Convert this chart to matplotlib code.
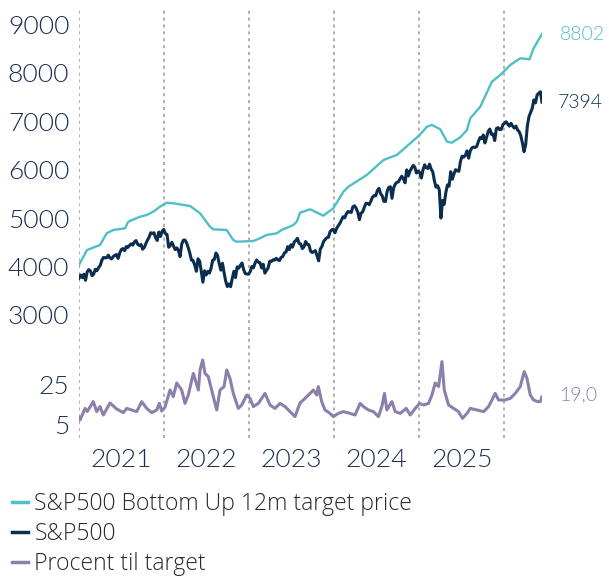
import matplotlib
matplotlib.use("Agg")
import matplotlib.pyplot as plt
import pandas as pd

# ---------------- data ----------------
sp_2021 = [3756, 3825, 3768, 3841, 3714,
           3887, 3934, 3907, 3811,
           3842, 3943, 3913, 3975,
           4020, 4129, 4185, 4180, 4181,
           4233, 4174, 4156, 4204,
           4230, 4247, 4166, 4281,
           4352, 4370, 4327, 4412, 4395,
           4437, 4468, 4442, 4509,
           4535, 4459, 4433, 4455,
           4357, 4391, 4471, 4545, 4605,
           4697, 4683, 4698, 4595,
           4538, 4712, 4621, 4726, 4766]
sp_2022 = [4677, 4663, 4398, 4432,
           4500, 4419, 4349, 4385,
           4329, 4204, 4463, 4543,
           4546, 4488, 4392, 4272, 4132,
           4123, 4024, 3901, 4158,
           4109, 3901, 3675, 3912,
           3825, 3899, 3863, 3962, 4130,
           4145, 4280, 4228, 4058,
           3924, 4067, 3873, 3693, 3586,
           3640, 3583, 3753, 3901,
           3771, 3993, 3965, 4026,
           4072, 3934, 3852, 3845, 3840]
sp_2023 = [3895, 3999, 3973, 4071,
           4136, 4090, 4079, 3970,
           4046, 3862, 3917, 3971, 4109,
           4105, 4138, 4133, 4169,
           4136, 4124, 4192, 4205,
           4282, 4299, 4410, 4348, 4450,
           4399, 4505, 4536, 4582,
           4478, 4464, 4370, 4406,
           4516, 4457, 4450, 4320, 4288,
           4308, 4327, 4224, 4117,
           4358, 4415, 4514, 4559,
           4595, 4604, 4719, 4755, 4770]
sp_2024 = [4697, 4784, 4840, 4891,
           4959, 5027, 5006, 5089,
           5137, 5124, 5117, 5234, 5254,
           5204, 5123, 4967, 5100,
           5128, 5223, 5303, 5305, 5278,
           5347, 5432, 5465, 5460,
           5567, 5615, 5505, 5459,
           5346, 5344, 5554, 5634, 5648,
           5408, 5626, 5703, 5738,
           5751, 5815, 5864, 5808,
           5729, 5996, 5870, 5969, 6032,
           6090, 6051, 5931, 5971]
sp_2025 = [5942, 5827, 5997, 6101, 6041,
           6026, 6115, 6013, 5955,
           5770, 5639, 5668, 5581,
           5000, 5363, 5283, 5525,
           5686, 5660, 5958, 5803, 5912,
           6000, 5977, 5967, 6173,
           6279, 6260, 6297, 6389,
           6238, 6389, 6450, 6467, 6460,
           6482, 6584, 6664, 6644,
           6716, 6553, 6664, 6792, 6840,
           6729, 6734, 6603, 6849,
           6870, 6827, 6834, 6930]
sp_2026 = [6958, 6990, 6940, 6900, 6958,
           6900, 6860, 6900, 6820,
           6785, 6700, 6550, 6372,
           6520, 6900, 7095, 7180,
           7268, 7440, 7380, 7543, 7580,
           7610, 7394]

# target price: (decimal year, value)
tgt_t = [2021.000, 2021.094, 2021.247, 2021.326, 2021.404, 2021.541, 2021.580,
         2021.718, 2021.796, 2021.874, 2021.953, 2022.031, 2022.109, 2022.306,
         2022.424, 2022.541, 2022.580, 2022.737, 2022.815, 2022.855, 2023.051,
         2023.129, 2023.208, 2023.326, 2023.384, 2023.522, 2023.561, 2023.600,
         2023.718, 2023.874, 2023.992, 2024.110, 2024.169, 2024.384, 2024.580,
         2024.737, 2024.894, 2025.004, 2025.090, 2025.149, 2025.247, 2025.326,
         2025.384, 2025.482, 2025.561, 2025.600, 2025.718, 2025.855, 2025.953,
         2026.071, 2026.188, 2026.298, 2026.345, 2026.443]
tgt_v = [4030, 4340, 4444, 4686, 4754, 4789, 4926,
         5029, 5064, 5132, 5236, 5318, 5306, 5250,
         5099, 4822, 4768, 4754, 4548, 4512, 4527,
         4583, 4651, 4686, 4754, 4857, 4926, 5110,
         5182, 5050, 5202, 5545, 5649, 5890, 6200,
         6304, 6545, 6717, 6888, 6924, 6835, 6579,
         6558, 6669, 6820, 7062, 7302, 7818, 7957,
         8163, 8302, 8281, 8508, 8802]

# percent to target: (decimal year, value)
pct_t = [2021.000, 2021.012, 2021.071, 2021.098, 2021.168, 2021.208, 2021.247,
         2021.286, 2021.365, 2021.443, 2021.522, 2021.561, 2021.620, 2021.679,
         2021.738, 2021.796, 2021.855, 2021.914, 2021.945, 2021.973, 2022.012,
         2022.071, 2022.109, 2022.149, 2022.208, 2022.247, 2022.286, 2022.345,
         2022.404, 2022.424, 2022.455, 2022.482, 2022.521, 2022.580, 2022.620,
         2022.659, 2022.706, 2022.738, 2022.776, 2022.815, 2022.874, 2022.914,
         2022.973, 2023.012, 2023.051, 2023.109, 2023.188, 2023.247, 2023.306,
         2023.365, 2023.424, 2023.482, 2023.541, 2023.600, 2023.659, 2023.718,
         2023.757, 2023.796, 2023.815, 2023.855, 2023.894, 2023.953, 2023.992,
         2024.051, 2024.110, 2024.188, 2024.247, 2024.306, 2024.345, 2024.404,
         2024.462, 2024.521, 2024.561, 2024.592, 2024.620, 2024.679, 2024.718,
         2024.776, 2024.847, 2024.894, 2024.953, 2025.004, 2025.051, 2025.109,
         2025.149, 2025.188, 2025.227, 2025.267, 2025.294, 2025.345, 2025.404,
         2025.462, 2025.509, 2025.561, 2025.600, 2025.679, 2025.757, 2025.815,
         2025.855, 2025.894, 2025.933, 2026.004, 2026.071, 2026.129, 2026.188,
         2026.235, 2026.267, 2026.306, 2026.345, 2026.392, 2026.424, 2026.443]
pct_v = [8.8, 7.5, 13.3, 11.8, 16.7, 11.7, 14.2,
         10.0, 16.0, 13.0, 11.2, 13.3, 12.5, 11.7,
         16.7, 13.3, 11.2, 12.5, 15.8, 12.0, 14.0,
         22.5, 19.2, 26.0, 22.5, 15.8, 20.0, 30.8,
         22.5, 32.5, 37.5, 30.8, 29.2, 19.2, 12.5,
         22.5, 24.2, 32.5, 28.3, 20.8, 13.3, 15.0,
         20.0, 18.3, 14.2, 15.8, 20.8, 15.0, 13.3,
         15.8, 14.2, 11.7, 9.2, 16.0, 18.3, 20.8,
         22.5, 20.0, 24.2, 16.7, 12.5, 10.8, 9.2,
         10.8, 11.7, 10.8, 10.0, 15.8, 14.2, 12.5,
         11.7, 9.2, 14.2, 20.8, 12.5, 16.7, 11.7,
         10.8, 13.3, 10.0, 13.3, 15.8, 15.0, 15.8,
         20.0, 26.0, 24.2, 36.7, 22.5, 15.0, 13.3,
         11.7, 8.3, 10.8, 13.3, 12.5, 11.7, 14.2,
         17.5, 20.8, 17.5, 17.5, 18.3, 20.8, 24.2,
         31.7, 28.3, 20.0, 17.5, 16.7, 16.7, 19.0]

years = [2021, 2022, 2023, 2024, 2025, 2026]
year_labels = ["2021", "2022", "2023", "2024", "2025"]
top_ticks = [3000, 4000, 5000, 6000, 7000, 8000, 9000]
bot_ticks = [5, 25]

labels = ["S&P500 Bottom Up 12m target price", "S&P500", "Procent til target"]
c_tgt = "#4fbfc6"
c_sp = "#0c2e4e"
c_pct = "#8b7fac"
c_tick = "#1a2d52"


def dec2dt(y):
    y0 = int(y)
    a = pd.Timestamp(y0, 1, 1)
    b = pd.Timestamp(y0 + 1, 1, 1)
    return a + (b - a) * (y - y0)


sp_vals = sp_2021 + sp_2022 + sp_2023 + sp_2024 + sp_2025 + sp_2026
sp_dates = pd.date_range("2021-01-01", periods=len(sp_vals), freq="W-FRI")
tgt_dates = [dec2dt(t) for t in tgt_t]
pct_dates = [dec2dt(t) for t in pct_t]

# ---------------- figure ----------------
W, H = 609, 578
fig = plt.figure(figsize=(W / 100, H / 100), dpi=100)
FONT = "Lato"
LFONT = "Open Sans"
WT = 300

def px_axes(x0, y0, x1, y1):
    return fig.add_axes([x0 / W, 1 - y1 / H, (x1 - x0) / W, (y1 - y0) / H])

ax = px_axes(79, 7, 542, 330)
ax2 = px_axes(79, 330, 542, 438)

xmin = pd.Timestamp("2021-01-01")
xmax = sp_dates[-1]

for a in (ax, ax2):
    a.set_xlim(xmin, xmax)
    for s in a.spines.values():
        s.set_visible(False)
    a.set_facecolor("none")
    for yr in years:
        a.axvline(pd.Timestamp(yr, 1, 1), color="#9a9a9a", lw=1.1,
                  linestyle=(0, (2, 2.5)), zorder=0)
    a.tick_params(axis="y", length=0, pad=7)
    a.tick_params(axis="x", length=0)

ax.set_ylim(2688, 9361)
ax2.set_ylim(-1.5, 52.5)

l_tgt, = ax.plot(tgt_dates, tgt_v, color=c_tgt, lw=1.7, zorder=3)
l_sp, = ax.plot(sp_dates, sp_vals, color=c_sp, lw=2.2, zorder=4)
l_pct, = ax2.plot(pct_dates, pct_v, color=c_pct, lw=2.2, zorder=3)

tick_font = dict(fontfamily=FONT, fontsize=19, color=c_tick, fontweight=WT)
ax.set_yticks(top_ticks)
ax.set_yticklabels([str(t) for t in top_ticks], **tick_font)
ax.set_xticks([])
ax2.set_yticks(bot_ticks)
ax2.set_yticklabels([str(t) for t in bot_ticks], **tick_font)
ax2.set_xticks([pd.Timestamp(int(y), 7, 2) for y in year_labels])
ax2.set_xticklabels(year_labels, **tick_font)
ax2.tick_params(axis="x", pad=7)

# end labels
end_font = dict(fontsize=14, fontfamily=FONT, fontweight=WT, va="center",
                ha="left", textcoords="offset pixels", annotation_clip=False)
ax.annotate(f"{tgt_v[-1]}", xy=(tgt_dates[-1], tgt_v[-1]), xytext=(18, 0),
            color=c_tgt, **end_font)
ax.annotate(f"{sp_vals[-1]}", xy=(sp_dates[-1], sp_vals[-1]), xytext=(16, 0),
            color=c_sp, **end_font)
ax2.annotate(f"{pct_v[-1]:.1f}".replace(".", ","), xy=(pct_dates[-1], pct_v[-1]),
             xytext=(17, 2), color=c_pct, **end_font)

# legend
leg = fig.legend([l_tgt, l_sp, l_pct], labels, loc="upper left",
                 bbox_to_anchor=(12 / W, 1 - 492 / H), frameon=False,
                 borderaxespad=0, borderpad=0,
                 handlelength=0.7, handletextpad=0.27, labelspacing=0.27,
                 prop={"family": LFONT, "size": 16.6, "weight": WT})
for line in leg.get_lines():
    line.set_linewidth(2.5)
for t in leg.get_texts():
    t.set_color("#2a2a2a")

fig.savefig("out.png", dpi=100)
